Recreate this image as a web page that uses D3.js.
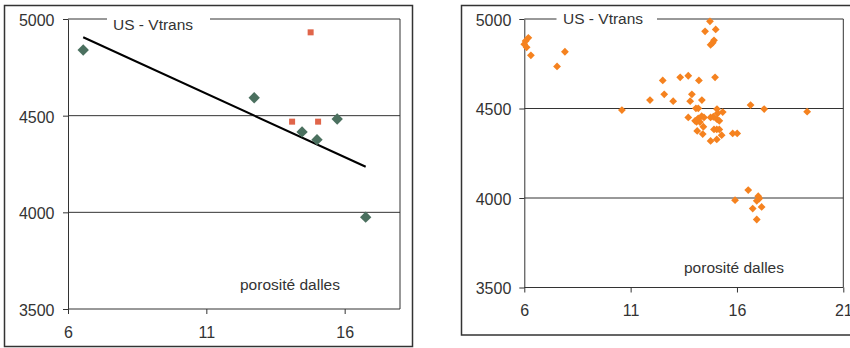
<!DOCTYPE html>
<html>
<head>
<meta charset="utf-8">
<script src="https://cdn.jsdelivr.net/npm/d3@7"></script>
<style>
  body { margin: 0; background: #fff; }
  svg { display: block; font-family: Arial, "Liberation Sans", sans-serif; }
</style>
</head>
<body>
<svg id="chart" width="850" height="348"></svg>
<script>
// y axis is shared by both panels
const yTicks = [3500, 4000, 4500, 5000];
const gridValues = [4000, 4500];
const leftXTicks = [6, 11, 16];
const rightXTicks = [6, 11, 16, 21];
const titleText = 'US - Vtrans';
const xLabelText = 'porosité dalles';

// left panel: green diamonds (fitted) and red squares
const leftGreen = [
  [6.55, 4840], [12.73, 4593], [14.46, 4416], [15.0, 4376], [15.73, 4483], [16.76, 3975]
];
const leftRed = [
  [14.77, 4931], [14.1, 4469], [15.04, 4469]
];

// right panel: orange diamonds
const rightPoints = [
  [6.0, 4859], [6.19, 4895], [6.11, 4842], [6.06, 4877], [6.31, 4797], [7.54, 4735], [7.91, 4817],
  [10.59, 4491],
  [11.91, 4547], [12.51, 4657], [12.58, 4579], [13.0, 4541], [13.33, 4674], [13.71, 4683],
  [13.88, 4579], [13.8, 4541], [14.21, 4657], [14.35, 4547], [14.97, 4674],
  [14.07, 4501], [14.18, 4501], [15.06, 4497], [15.09, 4473], [15.33, 4480],
  [13.71, 4450], [14.03, 4431], [14.18, 4445], [14.34, 4457], [14.45, 4450], [14.76, 4450],
  [14.89, 4454], [15.07, 4439], [15.17, 4431], [14.1, 4426], [14.26, 4424], [14.42, 4398],
  [14.13, 4375], [14.39, 4357], [14.92, 4383], [15.05, 4383], [15.17, 4383], [15.28, 4351],
  [15.05, 4327], [14.76, 4319], [15.8, 4361], [16.01, 4361],
  [14.73, 4987], [14.5, 4931], [15.0, 4942], [14.92, 4881], [14.86, 4867], [14.76, 4856],
  [16.53, 4044], [15.91, 3988], [17.0, 4010], [17.05, 3997], [16.93, 3984], [16.74, 3941],
  [17.16, 3950], [16.93, 3880],
  [16.64, 4519], [17.28, 4497], [19.3, 4482]
];

const svg = d3.select('#chart');
const ink = '#333';

const diamond = r => `M0,${-r}L${r},0L0,${r}L${-r},0Z`;

function panel(cfg) {
  const x = d3.scaleLinear().domain(cfg.xDomain).range([cfg.left, cfg.right]);
  const y = d3.scaleLinear().domain([3500, 5000]).range([cfg.bottom, cfg.top]);
  const g = svg.append('g');

  // outer frame
  g.append('rect')
    .attr('x', cfg.frame[0]).attr('y', cfg.frame[1])
    .attr('width', cfg.frame[2]).attr('height', cfg.frame[3])
    .attr('fill', 'none').attr('stroke', ink).attr('stroke-width', 1.5);

  // gridlines
  g.selectAll('.grid').data(gridValues).enter().append('line')
    .attr('x1', cfg.left).attr('x2', cfg.right)
    .attr('y1', d => y(d)).attr('y2', d => y(d))
    .attr('stroke', ink).attr('stroke-width', 1);

  // plot border: right side and top with a gap for the title
  g.append('line')
    .attr('x1', cfg.right).attr('x2', cfg.right)
    .attr('y1', cfg.top).attr('y2', cfg.bottom)
    .attr('stroke', ink);
  g.append('line')
    .attr('x1', cfg.left).attr('x2', cfg.gap[0])
    .attr('y1', cfg.top).attr('y2', cfg.top).attr('stroke', ink);
  g.append('line')
    .attr('x1', cfg.gap[1]).attr('x2', cfg.right)
    .attr('y1', cfg.top).attr('y2', cfg.top).attr('stroke', ink);

  const yAxis = g.append('g')
    .attr('transform', `translate(${cfg.left},0)`)
    .call(d3.axisLeft(y).tickValues(yTicks).tickSize(5).tickSizeOuter(0).tickPadding(cfg.yPad).tickFormat(d3.format('d')));
  const xAxis = g.append('g')
    .attr('transform', `translate(0,${cfg.bottom})`)
    .call(d3.axisBottom(x).tickValues(cfg.xTicks).tickSize(5).tickSizeOuter(0).tickPadding(cfg.xPad).tickFormat(d3.format('d')));
  [yAxis, xAxis].forEach(a => {
    a.select('.domain').attr('stroke', ink);
    a.selectAll('line').attr('stroke', ink);
    a.selectAll('text').attr('fill', ink).style('font-size', '16px')
      .style('font-family', 'Arial, "Liberation Sans", sans-serif');
  });
  yAxis.selectAll('text').attr('dy', '0.4em');
  // x axis baseline reaches the right border
  xAxis.select('.domain').attr('d', `M${cfg.left},0H${cfg.right}`);

  g.append('text')
    .attr('x', cfg.titlePos[0]).attr('y', cfg.titlePos[1])
    .attr('fill', ink).style('font-size', '15.5px')
    .text(titleText);
  g.append('text')
    .attr('x', cfg.labelPos[0]).attr('y', cfg.labelPos[1])
    .attr('fill', ink).style('font-size', '15.5px')
    .text(xLabelText);

  return { g, x, y };
}

// ---- left panel ----
const L = panel({
  xDomain: [6, 18], left: 68, right: 400, top: 19, bottom: 309,
  frame: [4.5, 5.5, 408, 341], gap: [107, 210],
  xTicks: leftXTicks, yPad: 8.5, xPad: 12.5,
  titlePos: [113, 30], labelPos: [240, 290]
});

// least squares line through the green points
const mx = d3.mean(leftGreen, d => d[0]);
const my = d3.mean(leftGreen, d => d[1]);
const slope = d3.sum(leftGreen, d => (d[0] - mx) * (d[1] - my)) / d3.sum(leftGreen, d => (d[0] - mx) ** 2);
const fitX = d3.extent(leftGreen, d => d[0]);
L.g.append('line')
  .attr('x1', L.x(fitX[0])).attr('y1', L.y(my + slope * (fitX[0] - mx)))
  .attr('x2', L.x(fitX[1])).attr('y2', L.y(my + slope * (fitX[1] - mx)))
  .attr('stroke', '#000').attr('stroke-width', 2);

L.g.selectAll('.green').data(leftGreen).enter().append('path')
  .attr('d', diamond(5.7))
  .attr('transform', d => `translate(${L.x(d[0])},${L.y(d[1])})`)
  .attr('fill', '#4b705f');

L.g.selectAll('.red').data(leftRed).enter().append('rect')
  .attr('x', d => L.x(d[0]) - 3).attr('y', d => L.y(d[1]) - 3)
  .attr('width', 6).attr('height', 6)
  .attr('fill', '#e0654a');

// ---- right panel ----
const R = panel({
  xDomain: [6, 21], left: 524.3, right: 843.3, top: 19, bottom: 287.5,
  frame: [461.5, 5.5, 400, 329.5], gap: [556.5, 657],
  xTicks: rightXTicks, yPad: 8, xPad: 12,
  titlePos: [563, 23.5], labelPos: [684, 273]
});

R.g.selectAll('.orange').data(rightPoints).enter().append('path')
  .attr('d', diamond(3.9))
  .attr('transform', d => `translate(${R.x(d[0])},${R.y(d[1])})`)
  .attr('fill', '#f5821f');
</script>
</body>
</html>
